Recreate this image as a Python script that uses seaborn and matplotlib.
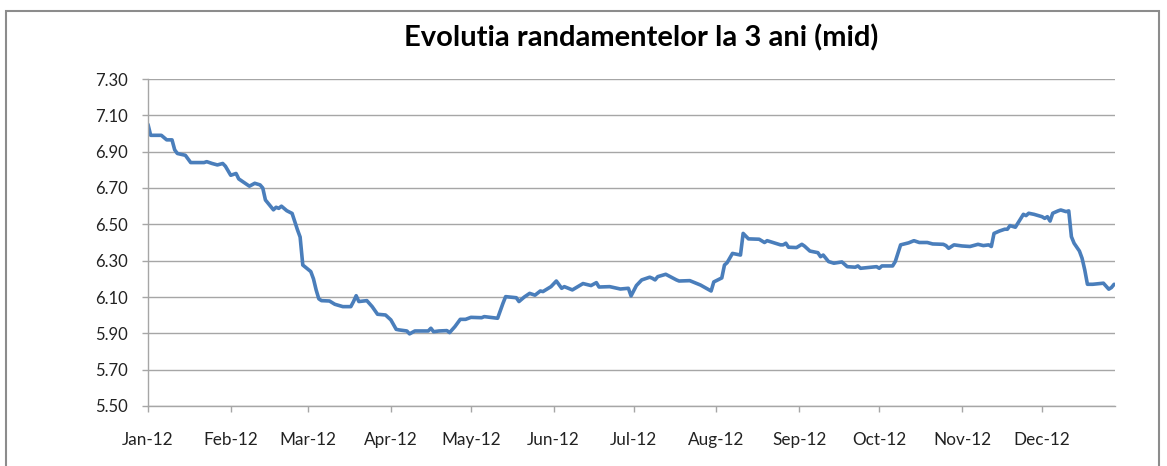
import matplotlib
matplotlib.use("Agg")
import matplotlib.pyplot as plt
import matplotlib.dates as mdates
from matplotlib.patches import Rectangle
import seaborn as sns
import pandas as pd

dates = [
    "2012-01-01", "2012-01-02", "2012-01-06", "2012-01-08", "2012-01-10", "2012-01-11",
    "2012-01-12", "2012-01-15", "2012-01-16", "2012-01-17", "2012-01-22", "2012-01-23",
    "2012-01-25", "2012-01-27", "2012-01-29", "2012-01-30", "2012-02-01", "2012-02-03",
    "2012-02-04", "2012-02-07", "2012-02-08", "2012-02-10", "2012-02-12", "2012-02-13",
    "2012-02-14", "2012-02-17", "2012-02-18", "2012-02-19", "2012-02-20", "2012-02-22",
    "2012-02-24", "2012-02-26", "2012-02-27", "2012-02-28", "2012-03-02", "2012-03-03",
    "2012-03-04", "2012-03-05", "2012-03-06", "2012-03-09", "2012-03-11", "2012-03-14",
    "2012-03-17", "2012-03-18", "2012-03-19", "2012-03-20", "2012-03-23", "2012-03-25",
    "2012-03-27", "2012-03-30", "2012-04-01", "2012-04-03", "2012-04-04", "2012-04-07",
    "2012-04-08", "2012-04-10", "2012-04-15", "2012-04-16", "2012-04-17", "2012-04-19",
    "2012-04-22", "2012-04-23", "2012-04-25", "2012-04-27", "2012-04-29", "2012-05-01",
    "2012-05-05", "2012-05-06", "2012-05-11", "2012-05-13", "2012-05-14", "2012-05-18",
    "2012-05-19", "2012-05-21", "2012-05-23", "2012-05-25", "2012-05-27", "2012-05-28",
    "2012-05-31", "2012-06-02", "2012-06-04", "2012-06-05", "2012-06-08", "2012-06-12",
    "2012-06-15", "2012-06-17", "2012-06-18", "2012-06-22", "2012-06-26", "2012-06-29",
    "2012-06-30", "2012-07-02", "2012-07-04", "2012-07-07", "2012-07-08", "2012-07-09",
    "2012-07-10", "2012-07-13", "2012-07-17", "2012-07-18", "2012-07-22", "2012-07-26",
    "2012-07-30", "2012-07-31", "2012-08-03", "2012-08-04", "2012-08-05", "2012-08-07",
    "2012-08-10", "2012-08-11", "2012-08-13", "2012-08-17", "2012-08-19", "2012-08-20",
    "2012-08-25", "2012-08-26", "2012-08-27", "2012-08-28", "2012-08-31", "2012-09-02",
    "2012-09-03", "2012-09-05", "2012-09-08", "2012-09-09", "2012-09-10", "2012-09-12",
    "2012-09-14", "2012-09-17", "2012-09-19", "2012-09-22", "2012-09-23", "2012-09-24",
    "2012-09-30", "2012-10-01", "2012-10-02", "2012-10-06", "2012-10-07", "2012-10-09",
    "2012-10-12", "2012-10-14", "2012-10-16", "2012-10-19", "2012-10-21", "2012-10-25",
    "2012-10-26", "2012-10-27", "2012-10-29", "2012-11-01", "2012-11-04", "2012-11-07",
    "2012-11-09", "2012-11-11", "2012-11-12", "2012-11-13", "2012-11-15", "2012-11-17",
    "2012-11-18", "2012-11-19", "2012-11-21", "2012-11-24", "2012-11-25", "2012-11-26",
    "2012-11-28", "2012-12-01", "2012-12-02", "2012-12-03", "2012-12-04", "2012-12-05",
    "2012-12-07", "2012-12-08", "2012-12-10", "2012-12-11", "2012-12-12", "2012-12-13",
    "2012-12-15", "2012-12-16", "2012-12-17", "2012-12-18", "2012-12-20", "2012-12-24",
    "2012-12-26", "2012-12-27", "2012-12-28",
]

yields = [
    7.05, 6.99, 6.99, 6.965, 6.965, 6.91,
    6.89, 6.88, 6.86, 6.84, 6.84, 6.845,
    6.835, 6.827, 6.835, 6.82, 6.77, 6.78,
    6.75, 6.72, 6.71, 6.726, 6.717, 6.70,
    6.634, 6.58, 6.594, 6.588, 6.60, 6.575,
    6.56, 6.47, 6.43, 6.276, 6.24, 6.20,
    6.139, 6.09, 6.08, 6.078, 6.06, 6.047,
    6.047, 6.075, 6.107, 6.075, 6.08, 6.047,
    6.005, 6.001, 5.974, 5.922, 5.919, 5.913,
    5.897, 5.913, 5.913, 5.928, 5.909, 5.913,
    5.915, 5.904, 5.937, 5.977, 5.977, 5.988,
    5.986, 5.992, 5.983, 6.065, 6.102, 6.096,
    6.075, 6.10, 6.12, 6.11, 6.133, 6.13,
    6.157, 6.188, 6.148, 6.157, 6.139, 6.174,
    6.163, 6.179, 6.155, 6.157, 6.144, 6.148,
    6.106, 6.163, 6.194, 6.209, 6.203, 6.194,
    6.212, 6.225, 6.194, 6.188, 6.19, 6.166,
    6.133, 6.183, 6.205, 6.276, 6.289, 6.34,
    6.331, 6.45, 6.42, 6.418, 6.40, 6.41,
    6.387, 6.387, 6.396, 6.374, 6.372, 6.39,
    6.38, 6.353, 6.344, 6.322, 6.331, 6.295,
    6.286, 6.293, 6.267, 6.264, 6.271, 6.258,
    6.267, 6.258, 6.271, 6.271, 6.295, 6.387,
    6.398, 6.41, 6.40, 6.40, 6.392, 6.39,
    6.383, 6.368, 6.387, 6.381, 6.378, 6.39,
    6.383, 6.387, 6.378, 6.45, 6.463, 6.473,
    6.473, 6.493, 6.484, 6.555, 6.548, 6.561,
    6.555, 6.542, 6.533, 6.542, 6.518, 6.561,
    6.574, 6.579, 6.57, 6.574, 6.432, 6.396,
    6.353, 6.313, 6.249, 6.17, 6.17, 6.176,
    6.143, 6.152, 6.17,
]

y_ticks = [5.50, 5.70, 5.90, 6.10, 6.30, 6.50, 6.70, 6.90, 7.10, 7.30]
title = "Evolutia randamentelor la 3 ani (mid)"

df = pd.DataFrame({"date": pd.to_datetime(dates), "yield": yields})

sns.set_style("white")
plt.rcParams["font.family"] = ["Lato", "DejaVu Sans"]

W, H = 1167, 466
fig = plt.figure(figsize=(W / 100, H / 100), dpi=100)
ax = fig.add_axes([148 / W, 1 - 406 / H, (1115 - 148) / W, (406 - 79) / H])

sns.lineplot(data=df, x="date", y="yield", ax=ax, estimator=None,
             color="#4A7EBB", linewidth=2.6)

ax.set_xlim(pd.Timestamp("2012-01-01"), pd.Timestamp("2012-12-28 08:00"))
ax.set_ylim(y_ticks[0], y_ticks[-1])
ax.set_yticks(y_ticks)
ax.set_yticklabels([f"{v:.2f}" for v in y_ticks])
ax.xaxis.set_major_locator(mdates.MonthLocator())
ax.xaxis.set_major_formatter(mdates.DateFormatter("%b-%y"))

ax.set_xlabel("")
ax.set_ylabel("")
grid_c = "#A6A6A6"
ax.grid(axis="y", color=grid_c, linewidth=1.0)
ax.grid(axis="x", visible=False)
ax.set_axisbelow(True)
for s in ["top", "right"]:
    ax.spines[s].set_visible(False)
for s in ["left", "bottom"]:
    ax.spines[s].set_color(grid_c)
    ax.spines[s].set_linewidth(1.0)

ax.tick_params(axis="y", which="major", direction="out", length=4.5, width=1.0,
               color=grid_c, pad=10, labelsize=12, labelcolor="#222222", left=True)
ax.tick_params(axis="x", which="major", direction="out", length=4.5, width=1.0,
               color=grid_c, pad=14, labelsize=12.3, labelcolor="#222222", bottom=True)

fig.text(641 / W, 1 - 38 / H, title, ha="center", va="center",
         fontsize=21, fontweight="bold", color="#000000")

fig.add_artist(Rectangle((6 / W, -0.05), (1159 - 6) / W, (H - 11) / H + 0.05,
                         transform=fig.transFigure, fill=False,
                         edgecolor="#8C8C8C", linewidth=1.5))

fig.savefig("out.png", dpi=100, facecolor="white")
